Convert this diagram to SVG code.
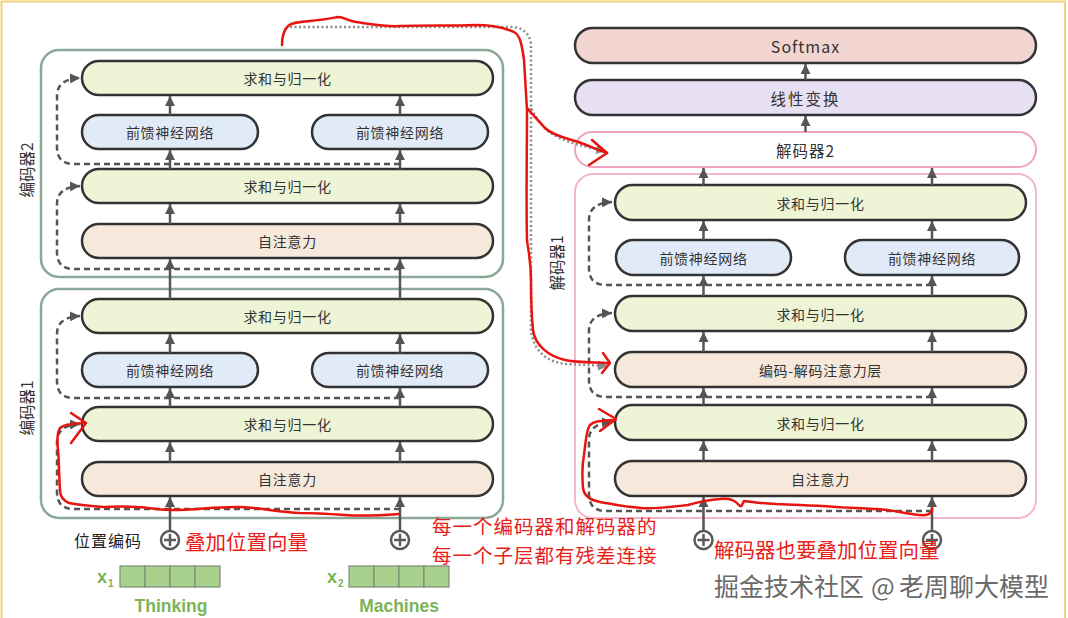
<svg xmlns="http://www.w3.org/2000/svg" width="1068" height="618" viewBox="0 0 1068 618">
<defs>
<marker id="ah" viewBox="0 0 10 10" refX="10" refY="5" markerWidth="10" markerHeight="10" markerUnits="userSpaceOnUse" orient="auto"><path d="M0,0 L10,5 L0,10 z" fill="#555"/></marker>
<marker id="ahg" viewBox="0 0 10 10" refX="10" refY="5" markerWidth="10" markerHeight="10" markerUnits="userSpaceOnUse" orient="auto"><path d="M0,0 L10,5 L0,10 z" fill="#888"/></marker>
</defs>
<style>
.box{stroke:#333;stroke-width:2.5}
.sum{fill:#eef4d6}
.ffn{fill:#e1ebf7}
.att{fill:#f6e9dc}
.enc{fill:none;stroke:#8ba896;stroke-width:2.5}
.dec{fill:none;stroke:#f4b6ca;stroke-width:2}
.t{font-family:"Noto Sans CJK SC","Noto Sans",sans-serif;font-size:14px;fill:#333;text-anchor:middle;dominant-baseline:central;letter-spacing:0.7px}
.lbl{font-family:"Noto Sans CJK SC","Noto Sans",sans-serif;font-size:15.5px;fill:#333;text-anchor:middle;dominant-baseline:central}
.arr{stroke:#555;stroke-width:2.5;fill:none;marker-end:url(#ah)}
.dash{stroke:#555;stroke-width:2.5;fill:none;stroke-dasharray:6 4;marker-end:url(#ah)}
.dot{stroke:#8c8c8c;stroke-width:2.5;fill:none;stroke-dasharray:2 2.5;marker-end:url(#ahg)}
.red{stroke:#e8140f;stroke-width:2.5;fill:none;stroke-linecap:round;stroke-linejoin:round}
.rt{font-family:"Noto Sans CJK SC",sans-serif;font-size:20.5px;fill:#e8201a;dominant-baseline:central}
.rt2{font-family:"Noto Sans CJK SC",sans-serif;font-size:19.5px;letter-spacing:1px;fill:#e8201a;dominant-baseline:central}
.plus circle{fill:#fff;stroke:#5a5a5a;stroke-width:2.5}
.plus path{stroke:#5a5a5a;stroke-width:2.5}
.cell{fill:#a9d18e;stroke:#7d8d76;stroke-width:1.2}
.gt{font-family:"Liberation Sans",Arial,sans-serif;font-weight:bold;fill:#7ab456;dominant-baseline:central}
</style>
<rect x="0" y="0" width="1068" height="618" fill="#fff"/>
<path d="M1.5,618 V1.5 H1065 V618" fill="none" stroke="#f3d27a" stroke-width="2"/>

<!-- Encoder 2 -->
<g id="enc2"><rect x="41" y="50" width="462" height="227" rx="18" class="enc"/><text class="lbl" transform="translate(26,170) rotate(-90)">编码器2</text></g>
<g id="enc2-addnorm2"><rect x="82" y="61" width="411" height="34" rx="17" class="box sum"/><text x="287.5" y="78" class="t">求和与归一化</text></g>
<g id="enc2-ffn-a"><rect x="82" y="115" width="176" height="34" rx="17" class="box ffn"/><text x="170" y="132" class="t">前馈神经网络</text></g>
<g id="enc2-ffn-b"><rect x="312" y="115" width="176" height="34" rx="17" class="box ffn"/><text x="400" y="132" class="t">前馈神经网络</text></g>
<g id="enc2-addnorm1"><rect x="82" y="169" width="411" height="34" rx="17" class="box sum"/><text x="287.5" y="186" class="t">求和与归一化</text></g>
<g id="enc2-attn"><rect x="82" y="224" width="411" height="34" rx="17" class="box att"/><text x="287.5" y="241" class="t">自注意力</text></g>

<!-- Encoder 1 -->
<g id="enc1"><rect x="41" y="289" width="462" height="229" rx="18" class="enc"/><text class="lbl" transform="translate(26,408) rotate(-90)">编码器1</text></g>
<g id="enc1-addnorm2"><rect x="82" y="299" width="411" height="34" rx="17" class="box sum"/><text x="287.5" y="316" class="t">求和与归一化</text></g>
<g id="enc1-ffn-a"><rect x="82" y="353" width="176" height="34" rx="17" class="box ffn"/><text x="170" y="370" class="t">前馈神经网络</text></g>
<g id="enc1-ffn-b"><rect x="312" y="353" width="176" height="34" rx="17" class="box ffn"/><text x="400" y="370" class="t">前馈神经网络</text></g>
<g id="enc1-addnorm1"><rect x="82" y="407" width="411" height="34" rx="17" class="box sum"/><text x="287.5" y="424" class="t">求和与归一化</text></g>
<g id="enc1-attn"><rect x="82" y="462" width="411" height="34" rx="17" class="box att"/><text x="287.5" y="479" class="t">自注意力</text></g>

<!-- Decoder side -->
<g id="softmax"><rect x="575" y="28" width="461" height="35" rx="17.5" class="box" fill="#f2d5d1"/><text x="805.5" y="45.5" class="t" style="font-size:16px;letter-spacing:1px">Softmax</text></g>
<g id="linear"><rect x="575" y="80" width="461" height="35" rx="17.5" class="box" fill="#e7e0f2"/><text x="805.5" y="97.5" class="t" style="font-size:15.5px;letter-spacing:2px">线性变换</text></g>
<g id="dec2"><rect x="575" y="132" width="461" height="35" rx="17.5" fill="#fff" stroke="#f0a3bd" stroke-width="2"/><text x="805.5" y="149.5" class="t" style="font-size:15.5px;letter-spacing:1px">解码器2</text></g>
<g id="dec1"><rect x="575" y="174" width="461" height="344" rx="18" class="dec"/><text class="lbl" transform="translate(556,263) rotate(-90)">解码器1</text></g>
<g id="dec1-addnorm3"><rect x="615" y="185" width="411" height="35" rx="17.5" class="box sum"/><text x="820.5" y="202.5" class="t">求和与归一化</text></g>
<g id="dec1-ffn-a"><rect x="616" y="240" width="175" height="35" rx="17.5" class="box ffn"/><text x="703.5" y="257.5" class="t">前馈神经网络</text></g>
<g id="dec1-ffn-b"><rect x="845" y="240" width="174" height="35" rx="17.5" class="box ffn"/><text x="932" y="257.5" class="t">前馈神经网络</text></g>
<g id="dec1-addnorm2"><rect x="615" y="296" width="411" height="35" rx="17.5" class="box sum"/><text x="820.5" y="313.5" class="t">求和与归一化</text></g>
<g id="dec1-encdec"><rect x="615" y="352" width="411" height="35" rx="17.5" class="box att"/><text x="820.5" y="369.5" class="t">编码-解码注意力层</text></g>
<g id="dec1-addnorm1"><rect x="615" y="405" width="411" height="35" rx="17.5" class="box sum"/><text x="820.5" y="422.5" class="t">求和与归一化</text></g>
<g id="dec1-attn"><rect x="615" y="461" width="411" height="35" rx="17.5" class="box att"/><text x="820.5" y="478.5" class="t">自注意力</text></g>

<!-- Inputs -->
<g id="pos-label"><text x="74" y="540" style="font-family:'Noto Sans CJK SC',sans-serif;font-size:16px;fill:#222;dominant-baseline:central;letter-spacing:1px">位置编码</text></g>
<g id="plus-1" class="plus"><circle cx="170" cy="540" r="9"/><path d="M164,540 H176 M170,534 V546"/></g>
<g id="plus-2" class="plus"><circle cx="400" cy="540" r="9"/><path d="M394,540 H406 M400,534 V546"/></g>
<g id="plus-3" class="plus"><circle cx="703.5" cy="540" r="9"/><path d="M697.5,540 H709.5 M703.5,534 V546"/></g>
<g id="plus-4" class="plus"><circle cx="932" cy="540" r="9"/><path d="M926,540 H938 M932,534 V546"/></g>
<g id="x1">
<text x="97" y="577" class="gt" style="font-size:18px">x</text><text x="108" y="583" class="gt" style="font-size:10px">1</text>
<rect x="120" y="566" width="25" height="21" class="cell"/><rect x="145" y="566" width="25" height="21" class="cell"/><rect x="170" y="566" width="25" height="21" class="cell"/><rect x="195" y="566" width="25" height="21" class="cell"/>
<text x="171" y="606" class="gt" style="font-size:17.5px;text-anchor:middle">Thinking</text>
</g>
<g id="x2">
<text x="327" y="577" class="gt" style="font-size:18px">x</text><text x="338" y="583" class="gt" style="font-size:10px">2</text>
<rect x="349" y="566" width="25" height="21" class="cell"/><rect x="374" y="566" width="25" height="21" class="cell"/><rect x="399" y="566" width="25" height="21" class="cell"/><rect x="424" y="566" width="25" height="21" class="cell"/>
<text x="399" y="606" class="gt" style="font-size:17.5px;text-anchor:middle">Machines</text>
</g>

<!-- Connectors -->
<g id="connectors">
<path class="arr" d="M170,531 V497"/><path class="arr" d="M400,531 V497"/>
<path class="arr" d="M170,462 V442"/><path class="arr" d="M400,462 V442"/>
<path class="arr" d="M170,407 V388"/><path class="arr" d="M400,407 V388"/>
<path class="arr" d="M170,353 V334"/><path class="arr" d="M400,353 V334"/>
<path class="arr" d="M170,299 V259"/><path class="arr" d="M400,299 V259"/>
<path class="arr" d="M170,224 V204"/><path class="arr" d="M400,224 V204"/>
<path class="arr" d="M170,169 V150"/><path class="arr" d="M400,169 V150"/>
<path class="arr" d="M170,115 V96"/><path class="arr" d="M400,115 V96"/>
<path class="dash" d="M400,509 H74 Q57,509 57,492 V442 Q57,425 80,424"/>
<path class="dash" d="M400,398 H74 Q57,398 57,381 V334 Q57,317 80,316"/>
<path class="dash" d="M400,269 H74 Q57,269 57,252 V204 Q57,187 80,186"/>
<path class="dash" d="M400,164 H74 Q57,164 57,147 V96 Q57,79 80,78"/>

<path class="arr" d="M703.5,531 V497"/><path class="arr" d="M932,531 V497"/>
<path class="arr" d="M703.5,461 V441"/><path class="arr" d="M932,461 V441"/>
<path class="arr" d="M703.5,405 V388"/><path class="arr" d="M932,405 V388"/>
<path class="arr" d="M703.5,352 V332"/><path class="arr" d="M932,352 V332"/>
<path class="arr" d="M703.5,296 V276"/><path class="arr" d="M932,296 V276"/>
<path class="arr" d="M703.5,240 V221"/><path class="arr" d="M932,240 V221"/>
<path class="arr" d="M703.5,185 V168"/><path class="arr" d="M932,185 V168"/>
<path class="arr" d="M805.5,132 V116"/>
<path class="arr" d="M805.5,80 V64"/>
<path class="dash" d="M932,511 H606 Q589,511 589,494 V440 Q589,423 612,422"/>
<path class="dash" d="M932,397 H606 Q589,397 589,380 V331 Q589,314 612,313"/>
<path class="dash" d="M932,285 H606 Q589,285 589,268 V220 Q589,203 612,202"/>

<path class="dot" d="M290,27 H512 C523,27 531,35 531,46 V108 C535,116 540,124 548,131 C563,142 585,147 606,151"/>
<path class="dot" d="M531,108 V330 C533,350 546,362 566,364 L608,366"/>
</g>

<!-- Red annotations -->
<g id="annotations">
<path class="red" d="M282,45 C282,38 284,30 288,26 C292,22 300,22 310,21 C322,20 332,18 338,17 C344,17 348,21 356,22 C372,24 384,27 400,26 C430,25 450,26 475,25 C495,25 505,28 514,32 C520,35 522,45 524,60 C525,75 526,95 527,110 C527,150 526,200 527,240 C528,250 531,260 531,280 C531,300 532,320 533,330 C535,345 548,356 565,360 C580,363 595,362 609,363"/>
<path class="red" d="M603,353 L610,363 L602,373"/>
<path class="red" d="M527,108 C532,114 538,120 545,128 C552,135 565,138 575,141 C585,144 598,150 607,153"/>
<path class="red" d="M592,140 L607,153 L589,165"/>
<path class="red" d="M399,514 C385,515 360,516 345,515 C330,514 315,513 300,513 C280,512 260,508 241,507 C220,506 195,510 172,510 C155,510 145,507 138,507 C120,506 110,507 103,507 C90,506 78,505 69,503 C62,500 60,495 60,490 C59,475 59,460 58,450 C57,440 57,432 60,428 C64,424 72,424 84,423"/>
<path class="red" d="M71,413 L86,423 L71,443"/>
<path class="red" d="M932,508 C933,512 930,516 920,515 C905,514 895,510 877,509 C850,508 810,505 776,504 C760,503 750,502 744,501 C742,504 742,507 740,506 C735,500 730,498 720,499 C705,500 695,503 688,505 C670,507 655,509 641,508 C625,507 612,504 600,502 C590,500 584,496 583,488 C582,475 582,465 584,455 C586,440 586,430 590,425 C594,421 600,421 614,420"/>
<path class="red" d="M599,409 L616,419 L600,431"/>
<text x="185" y="541" class="rt">叠加位置向量</text>
<text x="432" y="525" class="rt2">每一个编码器和解码器的</text>
<text x="432" y="554" class="rt2">每一个子层都有残差连接</text>
<text x="714" y="549" class="rt">解码器也要叠加位置向量</text>
</g>

<g id="watermark"><text y="585" style="font-family:'Noto Sans CJK SC',sans-serif;font-size:25px;fill:#6a6a6a;dominant-baseline:central"><tspan x="714">掘金技术社区</tspan><tspan x="871">@</tspan><tspan x="899">老周聊大模型</tspan></text></g>
</svg>
